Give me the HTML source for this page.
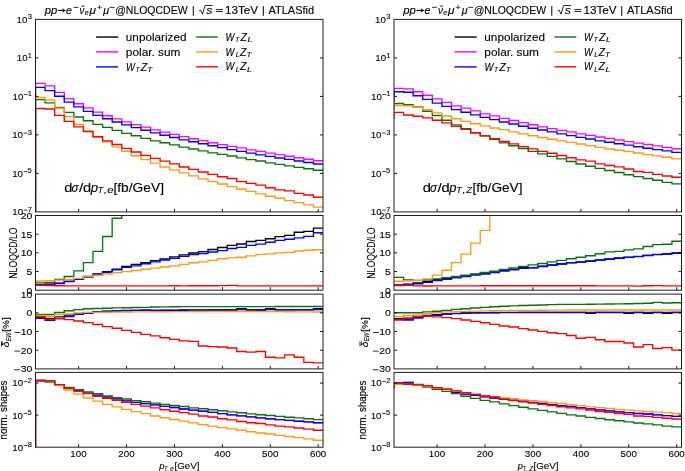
<!DOCTYPE html><html><head><meta charset="utf-8"><style>
html,body{margin:0;padding:0;background:#fff;}
svg{display:block;font-family:"Liberation Sans", sans-serif;}
</style></head><body>
<svg width="685" height="471" viewBox="0 0 685 471">
<rect width="685" height="471" fill="#fff"/>
<defs><filter id="soft" x="0" y="0" width="100%" height="100%" filterUnits="userSpaceOnUse"><feGaussianBlur stdDeviation="0.3"/></filter></defs>
<g filter="url(#soft)">
<rect width="685" height="471" fill="#fff"/>
<clipPath id="c0a"><rect x="35.5" y="19.4" width="287.5" height="192.5"/></clipPath>
<g clip-path="url(#c0a)" fill="none" stroke-width="1.35" stroke-linejoin="miter">
<path d="M35.5,216.9L35.5,83.3L45.08,83.3L45.08,85.8L54.67,85.8L54.67,92.3L64.25,92.3L64.25,98.6L73.83,98.6L73.83,103.7L83.42,103.7L83.42,107.9L93,107.9L93,112.1L102.58,112.1L102.58,115.7L112.17,115.7L112.17,118.9L121.75,118.9L121.75,121.9L131.33,121.9L131.33,124.6L140.92,124.6L140.92,127.1L150.5,127.1L150.5,129.9L160.08,129.9L160.08,132.1L169.67,132.1L169.67,134.4L179.25,134.4L179.25,136.6L188.83,136.6L188.83,138.7L198.42,138.7L198.42,140.6L208,140.6L208,142.7L217.58,142.7L217.58,144.6L227.17,144.6L227.17,146.4L236.75,146.4L236.75,147.9L246.33,147.9L246.33,149.9L255.92,149.9L255.92,151.4L265.5,151.4L265.5,153.1L275.08,153.1L275.08,154.6L284.67,154.6L284.67,156.2L294.25,156.2L294.25,157.7L303.83,157.7L303.83,159.2L313.42,159.2L313.42,160.7L323,160.7" stroke="#ff00ff"/>
<path d="M35.5,216.9L35.5,87.4L45.08,87.4L45.08,90.6L54.67,90.6L54.67,96.2L64.25,96.2L64.25,102.1L73.83,102.1L73.83,106.9L83.42,106.9L83.42,111.3L93,111.3L93,115.3L102.58,115.3L102.58,118.7L112.17,118.7L112.17,122L121.75,122L121.75,124.8L131.33,124.8L131.33,127.6L140.92,127.6L140.92,130.2L150.5,130.2L150.5,132.9L160.08,132.9L160.08,135.2L169.67,135.2L169.67,137.5L179.25,137.5L179.25,139.9L188.83,139.9L188.83,141.7L198.42,141.7L198.42,143.7L208,143.7L208,145.7L217.58,145.7L217.58,147.6L227.17,147.6L227.17,149.6L236.75,149.6L236.75,151.3L246.33,151.3L246.33,153.1L255.92,153.1L255.92,154.9L265.5,154.9L265.5,156.3L275.08,156.3L275.08,158L284.67,158L284.67,159.4L294.25,159.4L294.25,161L303.83,161L303.83,162.5L313.42,162.5L313.42,164L323,164" stroke="#0000ff"/>
<path d="M35.5,216.9L35.5,99.6L45.08,99.6L45.08,102.8L54.67,102.8L54.67,107.4L64.25,107.4L64.25,112.4L73.83,112.4L73.83,117L83.42,117L83.42,120.7L93,120.7L93,124.4L102.58,124.4L102.58,127.4L112.17,127.4L112.17,130.3L121.75,130.3L121.75,133.4L131.33,133.4L131.33,135.7L140.92,135.7L140.92,138.3L150.5,138.3L150.5,140.8L160.08,140.8L160.08,142.7L169.67,142.7L169.67,144.8L179.25,144.8L179.25,147.1L188.83,147.1L188.83,149L198.42,149L198.42,150.8L208,150.8L208,152.9L217.58,152.9L217.58,154.4L227.17,154.4L227.17,156L236.75,156L236.75,157.8L246.33,157.8L246.33,159.6L255.92,159.6L255.92,161L265.5,161L265.5,162.8L275.08,162.8L275.08,164.4L284.67,164.4L284.67,165.8L294.25,165.8L294.25,167.3L303.83,167.3L303.83,168.7L313.42,168.7L313.42,170.2L323,170.2" stroke="#107010"/>
<path d="M35.5,216.9L35.5,97.5L45.08,97.5L45.08,100L54.67,100L54.67,108.2L64.25,108.2L64.25,116.6L73.83,116.6L73.83,124.3L83.42,124.3L83.42,130.8L93,130.8L93,136.9L102.58,136.9L102.58,141.8L112.17,141.8L112.17,146.8L121.75,146.8L121.75,151.2L131.33,151.2L131.33,155.7L140.92,155.7L140.92,159.6L150.5,159.6L150.5,163.1L160.08,163.1L160.08,167L169.67,167L169.67,169.9L179.25,169.9L179.25,172.9L188.83,172.9L188.83,175.8L198.42,175.8L198.42,178.8L208,178.8L208,181.6L217.58,181.6L217.58,184L227.17,184L227.17,186.6L236.75,186.6L236.75,189.2L246.33,189.2L246.33,191.4L255.92,191.4L255.92,193.9L265.5,193.9L265.5,196.2L275.08,196.2L275.08,198.2L284.67,198.2L284.67,200.6L294.25,200.6L294.25,202.6L303.83,202.6L303.83,204.8L313.42,204.8L313.42,207.1L323,207.1" stroke="#ff9a14"/>
<path d="M35.5,216.9L35.5,108.5L45.08,108.5L45.08,109L54.67,109L54.67,115.4L64.25,115.4L64.25,121.3L73.83,121.3L73.83,126.8L83.42,126.8L83.42,131.6L93,131.6L93,136.7L102.58,136.7L102.58,140.8L112.17,140.8L112.17,144.5L121.75,144.5L121.75,148.4L131.33,148.4L131.33,152L140.92,152L140.92,155.4L150.5,155.4L150.5,158.3L160.08,158.3L160.08,161.1L169.67,161.1L169.67,163.9L179.25,163.9L179.25,167L188.83,167L188.83,169.3L198.42,169.3L198.42,172L208,172L208,174.4L217.58,174.4L217.58,176.7L227.17,176.7L227.17,178.5L236.75,178.5L236.75,181.6L246.33,181.6L246.33,183.4L255.92,183.4L255.92,185.1L265.5,185.1L265.5,187.7L275.08,187.7L275.08,189.9L284.67,189.9L284.67,190.9L294.25,190.9L294.25,193.3L303.83,193.3L303.83,195L313.42,195L313.42,197.2L323,197.2" stroke="#ff0000"/>
</g>
<path d="M35.5,57.9h3M323,57.9h-3M35.5,96.4h3M323,96.4h-3M35.5,134.9h3M323,134.9h-3M35.5,173.4h3M323,173.4h-3M78.62,211.9v-3M126.54,211.9v-3M174.46,211.9v-3M222.38,211.9v-3M270.29,211.9v-3M318.21,211.9v-3" stroke="#000" stroke-width="0.9" fill="none"/>
<rect x="35.5" y="19.4" width="287.5" height="192.5" fill="none" stroke="#1e1e1e" stroke-width="1"/>
<clipPath id="c0b"><rect x="35.5" y="215.5" width="287.5" height="74.7"/></clipPath>
<g clip-path="url(#c0b)" fill="none" stroke-width="1.35" stroke-linejoin="miter">
<path d="M35.5,284.6L45.08,284.6L45.08,284.2L54.67,284.2L54.67,283.1L64.25,283.1L64.25,281.3L73.83,281.3L73.83,279.1L83.42,279.1L83.42,276.5L93,276.5L93,274L102.58,274L102.58,271.6L112.17,271.6L112.17,269.2L121.75,269.2L121.75,266.5L131.33,266.5L131.33,264.4L140.92,264.4L140.92,262.7L150.5,262.7L150.5,260.6L160.08,260.6L160.08,258.9L169.67,258.9L169.67,256.8L179.25,256.8L179.25,254.9L188.83,254.9L188.83,253L198.42,253L198.42,251.6L208,251.6L208,249.5L217.58,249.5L217.58,247.5L227.17,247.5L227.17,245.4L236.75,245.4L236.75,244L246.33,244L246.33,241.5L255.92,241.5L255.92,240.4L265.5,240.4L265.5,238.7L275.08,238.7L275.08,236.6L284.67,236.6L284.67,235.4L294.25,235.4L294.25,232.2L303.83,232.2L303.83,231.4L313.42,231.4L313.42,228.1L323,228.1" stroke="#000000"/>
<path d="M35.5,284.6L45.08,284.6L45.08,284.4L54.67,284.4L54.67,283.5L64.25,283.5L64.25,281.5L73.83,281.5L73.83,279.4L83.42,279.4L83.42,277L93,277L93,274.5L102.58,274.5L102.58,272.2L112.17,272.2L112.17,269.8L121.75,269.8L121.75,267.3L131.33,267.3L131.33,265.9L140.92,265.9L140.92,263.7L150.5,263.7L150.5,261.8L160.08,261.8L160.08,260L169.67,260L169.67,258.3L179.25,258.3L179.25,256.4L188.83,256.4L188.83,254.6L198.42,254.6L198.42,253.5L208,253.5L208,252L217.58,252L217.58,250.6L227.17,250.6L227.17,248.5L236.75,248.5L236.75,247.4L246.33,247.4L246.33,245.3L255.92,245.3L255.92,244.1L265.5,244.1L265.5,242.2L275.08,242.2L275.08,240.4L284.67,240.4L284.67,239.2L294.25,239.2L294.25,237.9L303.83,237.9L303.83,236.3L313.42,236.3L313.42,232.7L323,232.7" stroke="#0000ff"/>
<path d="M35.5,282.8L45.08,282.8L45.08,282.4L54.67,282.4L54.67,279.3L64.25,279.3L64.25,276.5L73.83,276.5L73.83,270.9L83.42,270.9L83.42,262.6L93,262.6L93,251.4L102.58,251.4L102.58,236.5L112.17,236.5L112.17,218.2L121.75,218.2L121.75,150L131.33,150L131.33,150L140.92,150L140.92,150L150.5,150L150.5,150L160.08,150L160.08,150L169.67,150L169.67,150L179.25,150L179.25,150L188.83,150L188.83,150L198.42,150L198.42,150L208,150L208,150L217.58,150L217.58,150L227.17,150L227.17,150L236.75,150L236.75,150L246.33,150L246.33,150L255.92,150L255.92,150L265.5,150L265.5,150L275.08,150L275.08,150L284.67,150L284.67,150L294.25,150L294.25,150L303.83,150L303.83,150L313.42,150L313.42,150L323,150" stroke="#107010"/>
<path d="M35.5,281L45.08,281L45.08,280.6L54.67,280.6L54.67,280.1L64.25,280.1L64.25,279.5L73.83,279.5L73.83,278.3L83.42,278.3L83.42,276.5L93,276.5L93,275.2L102.58,275.2L102.58,274L112.17,274L112.17,272.6L121.75,272.6L121.75,271.6L131.33,271.6L131.33,270.5L140.92,270.5L140.92,269.2L150.5,269.2L150.5,268.1L160.08,268.1L160.08,267L169.67,267L169.67,265.9L179.25,265.9L179.25,264.4L188.83,264.4L188.83,262.7L198.42,262.7L198.42,261.8L208,261.8L208,260.3L217.58,260.3L217.58,258.7L227.17,258.7L227.17,257.9L236.75,257.9L236.75,257.2L246.33,257.2L246.33,255.9L255.92,255.9L255.92,254.3L265.5,254.3L265.5,253.9L275.08,253.9L275.08,252.9L284.67,252.9L284.67,252.3L294.25,252.3L294.25,251L303.83,251L303.83,250.2L313.42,250.2L313.42,249.7L323,249.7" stroke="#ff9a14"/>
<path d="M35.5,285.2L45.08,285.2L45.08,285.5L54.67,285.5L54.67,285.7L64.25,285.7L64.25,285.8L73.83,285.8L73.83,285.8L83.42,285.8L83.42,285.8L93,285.8L93,285.9L102.58,285.9L102.58,285.9L112.17,285.9L112.17,285.9L121.75,285.9L121.75,285.9L131.33,285.9L131.33,285.9L140.92,285.9L140.92,285.8L150.5,285.8L150.5,285.8L160.08,285.8L160.08,285.8L169.67,285.8L169.67,285.7L179.25,285.7L179.25,285.8L188.83,285.8L188.83,285.7L198.42,285.7L198.42,285.7L208,285.7L208,285.7L217.58,285.7L217.58,285.6L227.17,285.6L227.17,285.4L236.75,285.4L236.75,285.8L246.33,285.8L246.33,285.9L255.92,285.9L255.92,285.9L265.5,285.9L265.5,285.9L275.08,285.9L275.08,285.9L284.67,285.9L284.67,285.9L294.25,285.9L294.25,285.9L303.83,285.9L303.83,285.9L313.42,285.9L313.42,285.9L323,285.9" stroke="#ff0000"/>
</g>
<path d="M35.5,271.52h3M323,271.52h-3M35.5,252.85h3M323,252.85h-3M35.5,234.18h3M323,234.18h-3M78.62,290.2v-3M126.54,290.2v-3M174.46,290.2v-3M222.38,290.2v-3M270.29,290.2v-3M318.21,290.2v-3" stroke="#000" stroke-width="0.9" fill="none"/>
<rect x="35.5" y="215.5" width="287.5" height="74.7" fill="none" stroke="#1e1e1e" stroke-width="1"/>
<clipPath id="c0c"><rect x="35.5" y="294.1" width="287.5" height="74.8"/></clipPath>
<g clip-path="url(#c0c)" fill="none" stroke-width="1.35" stroke-linejoin="miter">
<path d="M35.5,317.2L45.08,317.2L45.08,318.4L54.67,318.4L54.67,316.8L64.25,316.8L64.25,315.1L73.83,315.1L73.83,314L83.42,314L83.42,312.8L93,312.8L93,311.8L102.58,311.8L102.58,311.2L112.17,311.2L112.17,310.8L121.75,310.8L121.75,310.5L131.33,310.5L131.33,310.3L140.92,310.3L140.92,310.1L150.5,310.1L150.5,310.55L160.08,310.55L160.08,310.45L169.67,310.45L169.67,310.35L179.25,310.35L179.25,310.25L188.83,310.25L188.83,310.15L198.42,310.15L198.42,310.15L208,310.15L208,310.05L217.58,310.05L217.58,310.05L227.17,310.05L227.17,309.95L236.75,309.95L236.75,308.75L246.33,308.75L246.33,309.95L255.92,309.95L255.92,309.95L265.5,309.95L265.5,308.65L275.08,308.65L275.08,309.85L284.67,309.85L284.67,309.85L294.25,309.85L294.25,309.85L303.83,309.85L303.83,309.85L313.42,309.85L313.42,308.55L323,308.55" stroke="#000000"/>
<path d="M35.5,318.3L45.08,318.3L45.08,320.2L54.67,320.2L54.67,318.6L64.25,318.6L64.25,316.5L73.83,316.5L73.83,314.4L83.42,314.4L83.42,313L93,313L93,311.8L102.58,311.8L102.58,311.3L112.17,311.3L112.17,310.9L121.75,310.9L121.75,310.6L131.33,310.6L131.33,310.4L140.92,310.4L140.92,310.2L150.5,310.2L150.5,310.25L160.08,310.25L160.08,310.15L169.67,310.15L169.67,310.05L179.25,310.05L179.25,309.95L188.83,309.95L188.83,309.85L198.42,309.85L198.42,309.85L208,309.85L208,309.75L217.58,309.75L217.58,309.75L227.17,309.75L227.17,309.65L236.75,309.65L236.75,309.65L246.33,309.65L246.33,309.65L255.92,309.65L255.92,309.65L265.5,309.65L265.5,309.55L275.08,309.55L275.08,309.55L284.67,309.55L284.67,309.55L294.25,309.55L294.25,309.55L303.83,309.55L303.83,309.55L313.42,309.55L313.42,309.45L323,309.45" stroke="#0000ff"/>
<path d="M35.5,314.3L45.08,314.3L45.08,314.5L54.67,314.5L54.67,312.5L64.25,312.5L64.25,310.7L73.83,310.7L73.83,309.6L83.42,309.6L83.42,308.7L93,308.7L93,308.5L102.58,308.5L102.58,308.2L112.17,308.2L112.17,307.9L121.75,307.9L121.75,307.7L131.33,307.7L131.33,307.5L140.92,307.5L140.92,307.4L150.5,307.4L150.5,306.95L160.08,306.95L160.08,306.85L169.67,306.85L169.67,306.75L179.25,306.75L179.25,306.65L188.83,306.65L188.83,306.65L198.42,306.65L198.42,306.65L208,306.65L208,306.55L217.58,306.55L217.58,306.55L227.17,306.55L227.17,306.55L236.75,306.55L236.75,306.55L246.33,306.55L246.33,306.55L255.92,306.55L255.92,306.55L265.5,306.55L265.5,306.55L275.08,306.55L275.08,306.45L284.67,306.45L284.67,306.45L294.25,306.45L294.25,306.45L303.83,306.45L303.83,306.45L313.42,306.45L313.42,306.45L323,306.45" stroke="#107010"/>
<path d="M35.5,315.4L45.08,315.4L45.08,316.2L54.67,316.2L54.67,314.5L64.25,314.5L64.25,313.9L73.83,313.9L73.83,312.8L83.42,312.8L83.42,312.4L93,312.4L93,312.3L102.58,312.3L102.58,312.2L112.17,312.2L112.17,312.1L121.75,312.1L121.75,312L131.33,312L131.33,311.9L140.92,311.9L140.92,311.8L150.5,311.8L150.5,311.7L160.08,311.7L160.08,311.7L169.67,311.7L169.67,311.6L179.25,311.6L179.25,311.6L188.83,311.6L188.83,311.5L198.42,311.5L198.42,311.5L208,311.5L208,311.5L217.58,311.5L217.58,311.5L227.17,311.5L227.17,311.5L236.75,311.5L236.75,311.5L246.33,311.5L246.33,311.5L255.92,311.5L255.92,311.6L265.5,311.6L265.5,311.6L275.08,311.6L275.08,311.6L284.67,311.6L284.67,311.7L294.25,311.7L294.25,311.8L303.83,311.8L303.83,311.9L313.42,311.9L313.42,312L323,312" stroke="#ff9a14"/>
<path d="M35.5,316.8L45.08,316.8L45.08,319.3L54.67,319.3L54.67,318.6L64.25,318.6L64.25,319.6L73.83,319.6L73.83,321L83.42,321L83.42,322.6L93,322.6L93,324.5L102.58,324.5L102.58,326.6L112.17,326.6L112.17,328.2L121.75,328.2L121.75,330.4L131.33,330.4L131.33,332.4L140.92,332.4L140.92,334.3L150.5,334.3L150.5,335.8L160.08,335.8L160.08,337.7L169.67,337.7L169.67,339.4L179.25,339.4L179.25,340.9L188.83,340.9L188.83,341.3L198.42,341.3L198.42,346L208,346L208,346.6L217.58,346.6L217.58,347L227.17,347L227.17,348L236.75,348L236.75,351.5L246.33,351.5L246.33,352.1L255.92,352.1L255.92,351.5L265.5,351.5L265.5,357.2L275.08,357.2L275.08,357.8L284.67,357.8L284.67,354.8L294.25,354.8L294.25,357.2L303.83,357.2L303.83,362.3L313.42,362.3L313.42,362.9L323,362.9" stroke="#ff0000"/>
</g>
<path d="M35.5,312.8h3M323,312.8h-3M35.5,331.5h3M323,331.5h-3M35.5,350.2h3M323,350.2h-3M78.62,368.9v-3M126.54,368.9v-3M174.46,368.9v-3M222.38,368.9v-3M270.29,368.9v-3M318.21,368.9v-3" stroke="#000" stroke-width="0.9" fill="none"/>
<rect x="35.5" y="294.1" width="287.5" height="74.8" fill="none" stroke="#1e1e1e" stroke-width="1"/>
<clipPath id="c0d"><rect x="35.5" y="372.4" width="287.5" height="74.8"/></clipPath>
<g clip-path="url(#c0d)" fill="none" stroke-width="1.35" stroke-linejoin="miter">
<path d="M35.5,452.2L35.5,380.8L45.08,380.8L45.08,381.2L54.67,381.2L54.67,385L64.25,385L64.25,388.2L73.83,388.2L73.83,390.8L83.42,390.8L83.42,393.2L93,393.2L93,395.1L102.58,395.1L102.58,397L112.17,397L112.17,398.9L121.75,398.9L121.75,400.8L131.33,400.8L131.33,402.3L140.92,402.3L140.92,403.6L150.5,403.6L150.5,404.9L160.08,404.9L160.08,406.4L169.67,406.4L169.67,407.5L179.25,407.5L179.25,409L188.83,409L188.83,410.1L198.42,410.1L198.42,411.2L208,411.2L208,412.3L217.58,412.3L217.58,413.6L227.17,413.6L227.17,414.9L236.75,414.9L236.75,415.8L246.33,415.8L246.33,416.9L255.92,416.9L255.92,417.8L265.5,417.8L265.5,418.7L275.08,418.7L275.08,419.6L284.67,419.6L284.67,420.4L294.25,420.4L294.25,421.2L303.83,421.2L303.83,421.9L313.42,421.9L313.42,422.7L323,422.7" stroke="#ff00ff"/>
<path d="M35.5,452.2L35.5,380.8L45.08,380.8L45.08,381.2L54.67,381.2L54.67,385L64.25,385L64.25,388.2L73.83,388.2L73.83,390.8L83.42,390.8L83.42,393.2L93,393.2L93,395.1L102.58,395.1L102.58,397L112.17,397L112.17,398.9L121.75,398.9L121.75,400.8L131.33,400.8L131.33,402.3L140.92,402.3L140.92,403.6L150.5,403.6L150.5,404.9L160.08,404.9L160.08,406.4L169.67,406.4L169.67,407.5L179.25,407.5L179.25,409L188.83,409L188.83,410.1L198.42,410.1L198.42,411.2L208,411.2L208,412.3L217.58,412.3L217.58,413.6L227.17,413.6L227.17,414.9L236.75,414.9L236.75,415.8L246.33,415.8L246.33,416.9L255.92,416.9L255.92,417.8L265.5,417.8L265.5,418.7L275.08,418.7L275.08,419.6L284.67,419.6L284.67,420.4L294.25,420.4L294.25,421.2L303.83,421.2L303.83,421.9L313.42,421.9L313.42,422.7L323,422.7" stroke="#0000ff"/>
<path d="M35.5,452.2L35.5,380.6L45.08,380.6L45.08,382L54.67,382L54.67,385.2L64.25,385.2L64.25,387.5L73.83,387.5L73.83,389.6L83.42,389.6L83.42,391.9L93,391.9L93,393.6L102.58,393.6L102.58,396L112.17,396L112.17,397.7L121.75,397.7L121.75,399L131.33,399L131.33,400.6L140.92,400.6L140.92,401.7L150.5,401.7L150.5,403.1L160.08,403.1L160.08,404.3L169.67,404.3L169.67,405.5L179.25,405.5L179.25,406.5L188.83,406.5L188.83,407.8L198.42,407.8L198.42,408.7L208,408.7L208,409.7L217.58,409.7L217.58,410.7L227.17,410.7L227.17,411.8L236.75,411.8L236.75,412.7L246.33,412.7L246.33,413.8L255.92,413.8L255.92,414.7L265.5,414.7L265.5,415.5L275.08,415.5L275.08,416.4L284.67,416.4L284.67,417.2L294.25,417.2L294.25,417.9L303.83,417.9L303.83,418.7L313.42,418.7L313.42,419.6L323,419.6" stroke="#107010"/>
<path d="M35.5,452.2L35.5,379.7L45.08,379.7L45.08,380.8L54.67,380.8L54.67,385.3L64.25,385.3L64.25,390L73.83,390L73.83,394.1L83.42,394.1L83.42,398L93,398L93,401.1L102.58,401.1L102.58,404.3L112.17,404.3L112.17,406.8L121.75,406.8L121.75,409.4L131.33,409.4L131.33,411.6L140.92,411.6L140.92,413.6L150.5,413.6L150.5,416L160.08,416L160.08,417.7L169.67,417.7L169.67,419.5L179.25,419.5L179.25,421.1L188.83,421.1L188.83,422.8L198.42,422.8L198.42,424.6L208,424.6L208,426.1L217.58,426.1L217.58,427.6L227.17,427.6L227.17,428.8L236.75,428.8L236.75,430.2L246.33,430.2L246.33,431.7L255.92,431.7L255.92,433L265.5,433L265.5,434L275.08,434L275.08,435.3L284.67,435.3L284.67,436.5L294.25,436.5L294.25,437.6L303.83,437.6L303.83,438.8L313.42,438.8L313.42,440.2L323,440.2" stroke="#ff9a14"/>
<path d="M35.5,452.2L35.5,380.3L45.08,380.3L45.08,380.6L54.67,380.6L54.67,384.6L64.25,384.6L64.25,388.3L73.83,388.3L73.83,391.1L83.42,391.1L83.42,393.6L93,393.6L93,396.3L102.58,396.3L102.58,398.2L112.17,398.2L112.17,400.4L121.75,400.4L121.75,402.4L131.33,402.4L131.33,404.3L140.92,404.3L140.92,406.1L150.5,406.1L150.5,407.8L160.08,407.8L160.08,409.7L169.67,409.7L169.67,411.2L179.25,411.2L179.25,412.6L188.83,412.6L188.83,414.1L198.42,414.1L198.42,416L208,416L208,417L217.58,417L217.58,418.7L227.17,418.7L227.17,419.9L236.75,419.9L236.75,421.5L246.33,421.5L246.33,422.7L255.92,422.7L255.92,423.5L265.5,423.5L265.5,424.8L275.08,424.8L275.08,426.1L284.67,426.1L284.67,426.8L294.25,426.8L294.25,428L303.83,428L303.83,429.1L313.42,429.1L313.42,430.2L323,430.2" stroke="#ff0000"/>
</g>
<path d="M35.5,383.09h3M323,383.09h-3M35.5,415.14h3M323,415.14h-3M78.62,447.2v-3M126.54,447.2v-3M174.46,447.2v-3M222.38,447.2v-3M270.29,447.2v-3M318.21,447.2v-3" stroke="#000" stroke-width="0.9" fill="none"/>
<rect x="35.5" y="372.4" width="287.5" height="74.8" fill="none" stroke="#1e1e1e" stroke-width="1"/>
<text x="27.65" y="19.4" font-size="6.7" textLength="4.17" lengthAdjust="spacingAndGlyphs" fill="#000" stroke="#000" stroke-width="0.1">3</text><text x="16.51" y="22.8" font-size="9.7" textLength="10.82" lengthAdjust="spacingAndGlyphs" fill="#000" stroke="#000" stroke-width="0.1">10</text><text x="27.69" y="57.9" font-size="6.7" textLength="4.17" lengthAdjust="spacingAndGlyphs" fill="#000" stroke="#000" stroke-width="0.1">1</text><text x="16.83" y="61.3" font-size="9.7" textLength="10.82" lengthAdjust="spacingAndGlyphs" fill="#000" stroke="#000" stroke-width="0.1">10</text><text x="27.69" y="96.4" font-size="6.7" textLength="4.17" lengthAdjust="spacingAndGlyphs" fill="#000" stroke="#000" stroke-width="0.1">1</text><rect x="23.95" y="94.23" width="3.6" height="0.75" fill="#000"/><text x="12.53" y="99.8" font-size="9.7" textLength="10.82" lengthAdjust="spacingAndGlyphs" fill="#000" stroke="#000" stroke-width="0.1">10</text><text x="27.65" y="134.9" font-size="6.7" textLength="4.17" lengthAdjust="spacingAndGlyphs" fill="#000" stroke="#000" stroke-width="0.1">3</text><rect x="23.64" y="132.72" width="3.6" height="0.75" fill="#000"/><text x="12.21" y="138.3" font-size="9.7" textLength="10.82" lengthAdjust="spacingAndGlyphs" fill="#000" stroke="#000" stroke-width="0.1">10</text><text x="27.64" y="173.4" font-size="6.7" textLength="4.17" lengthAdjust="spacingAndGlyphs" fill="#000" stroke="#000" stroke-width="0.1">5</text><rect x="23.64" y="171.22" width="3.6" height="0.75" fill="#000"/><text x="12.21" y="176.8" font-size="9.7" textLength="10.82" lengthAdjust="spacingAndGlyphs" fill="#000" stroke="#000" stroke-width="0.1">10</text><text x="27.71" y="211.9" font-size="6.7" textLength="4.17" lengthAdjust="spacingAndGlyphs" fill="#000" stroke="#000" stroke-width="0.1">7</text><rect x="23.79" y="209.72" width="3.6" height="0.75" fill="#000"/><text x="12.36" y="215.3" font-size="9.7" textLength="10.82" lengthAdjust="spacingAndGlyphs" fill="#000" stroke="#000" stroke-width="0.1">10</text><text x="20.69" y="218.95" font-size="9.7" textLength="11.62" lengthAdjust="spacingAndGlyphs" fill="#000" stroke="#000" stroke-width="0.1">20</text><text x="20.72" y="237.62" font-size="9.7" textLength="11.62" lengthAdjust="spacingAndGlyphs" fill="#000" stroke="#000" stroke-width="0.1">15</text><text x="20.69" y="256.3" font-size="9.7" textLength="11.62" lengthAdjust="spacingAndGlyphs" fill="#000" stroke="#000" stroke-width="0.1">10</text><text x="26.52" y="274.97" font-size="9.7" textLength="5.81" lengthAdjust="spacingAndGlyphs" fill="#000" stroke="#000" stroke-width="0.1">5</text><text x="26.49" y="293.65" font-size="9.7" textLength="5.81" lengthAdjust="spacingAndGlyphs" fill="#000" stroke="#000" stroke-width="0.1">0</text><text x="20.69" y="297.55" font-size="9.7" textLength="11.62" lengthAdjust="spacingAndGlyphs" fill="#000" stroke="#000" stroke-width="0.1">10</text><text x="26.49" y="316.25" font-size="9.7" textLength="5.81" lengthAdjust="spacingAndGlyphs" fill="#000" stroke="#000" stroke-width="0.1">0</text><text x="20.69" y="334.95" font-size="9.7" textLength="11.62" lengthAdjust="spacingAndGlyphs" fill="#000" stroke="#000" stroke-width="0.1">10</text><rect x="14.58" y="332" width="5.8" height="0.8" fill="#000"/><text x="20.69" y="353.65" font-size="9.7" textLength="11.62" lengthAdjust="spacingAndGlyphs" fill="#000" stroke="#000" stroke-width="0.1">20</text><rect x="14.31" y="350.7" width="5.8" height="0.8" fill="#000"/><text x="20.69" y="372.35" font-size="9.7" textLength="11.62" lengthAdjust="spacingAndGlyphs" fill="#000" stroke="#000" stroke-width="0.1">30</text><rect x="14.18" y="369.4" width="5.8" height="0.8" fill="#000"/><text x="27.71" y="383.09" font-size="6.7" textLength="4.17" lengthAdjust="spacingAndGlyphs" fill="#000" stroke="#000" stroke-width="0.1">2</text><rect x="23.79" y="380.91" width="3.6" height="0.75" fill="#000"/><text x="12.36" y="386.49" font-size="9.7" textLength="10.82" lengthAdjust="spacingAndGlyphs" fill="#000" stroke="#000" stroke-width="0.1">10</text><text x="27.64" y="415.14" font-size="6.7" textLength="4.17" lengthAdjust="spacingAndGlyphs" fill="#000" stroke="#000" stroke-width="0.1">5</text><rect x="23.64" y="412.97" width="3.6" height="0.75" fill="#000"/><text x="12.21" y="418.54" font-size="9.7" textLength="10.82" lengthAdjust="spacingAndGlyphs" fill="#000" stroke="#000" stroke-width="0.1">10</text><text x="27.65" y="447.2" font-size="6.7" textLength="4.17" lengthAdjust="spacingAndGlyphs" fill="#000" stroke="#000" stroke-width="0.1">8</text><rect x="23.67" y="445.02" width="3.6" height="0.75" fill="#000"/><text x="12.24" y="450.6" font-size="9.7" textLength="10.82" lengthAdjust="spacingAndGlyphs" fill="#000" stroke="#000" stroke-width="0.1">10</text><text x="70.3" y="457.3" font-size="9.7" textLength="16.3" lengthAdjust="spacingAndGlyphs" fill="#000" stroke="#000" stroke-width="0.1">100</text><text x="118.33" y="457.3" font-size="9.7" textLength="16.3" lengthAdjust="spacingAndGlyphs" fill="#000" stroke="#000" stroke-width="0.1">200</text><text x="166.31" y="457.3" font-size="9.7" textLength="16.3" lengthAdjust="spacingAndGlyphs" fill="#000" stroke="#000" stroke-width="0.1">300</text><text x="214.3" y="457.3" font-size="9.7" textLength="16.3" lengthAdjust="spacingAndGlyphs" fill="#000" stroke="#000" stroke-width="0.1">400</text><text x="262.13" y="457.3" font-size="9.7" textLength="16.3" lengthAdjust="spacingAndGlyphs" fill="#000" stroke="#000" stroke-width="0.1">500</text><text x="310" y="457.3" font-size="9.7" textLength="16.3" lengthAdjust="spacingAndGlyphs" fill="#000" stroke="#000" stroke-width="0.1">600</text>
<text x="44.68" y="13.7" font-size="10.9" font-style="italic" textLength="12.58" lengthAdjust="spacingAndGlyphs" fill="#000" stroke="#000" stroke-width="0.12">pp</text><path d="M57.9,10.4H63.4" stroke="#000" stroke-width="1.05"/><path d="M62.3,8.2L65.8,10.4L62.3,12.6L63.1,10.4Z" fill="#000"/><text x="66.05" y="13.7" font-size="10.9" font-style="italic" textLength="5.93" lengthAdjust="spacingAndGlyphs" fill="#000" stroke="#000" stroke-width="0.12">e</text><rect x="73.6" y="6.9" width="4.7" height="0.8" fill="#000"/><text x="79.53" y="13.7" font-size="10.9" font-style="italic" textLength="4.92" lengthAdjust="spacingAndGlyphs" fill="#000" stroke="#000" stroke-width="0.12">ν</text><rect x="81.3" y="5.7" width="3.3" height="0.8" fill="#000"/><text x="84.77" y="15.4" font-size="7.6" font-style="italic" textLength="3.99" lengthAdjust="spacingAndGlyphs" fill="#000" stroke="#000" stroke-width="0.12">e</text><text x="89.54" y="13.7" font-size="10.9" font-style="italic" textLength="6.45" lengthAdjust="spacingAndGlyphs" fill="#000" stroke="#000" stroke-width="0.12">μ</text><text x="96.84" y="10.1" font-size="7.6" textLength="5.63" lengthAdjust="spacingAndGlyphs" fill="#000" stroke="#000" stroke-width="0.12">+</text><text x="103.21" y="13.7" font-size="10.9" font-style="italic" textLength="5.85" lengthAdjust="spacingAndGlyphs" fill="#000" stroke="#000" stroke-width="0.12">μ</text><rect x="109.6" y="6.9" width="5" height="0.8" fill="#000"/><text x="115.19" y="13.7" font-size="10.9" textLength="72.36" lengthAdjust="spacingAndGlyphs" fill="#000" stroke="#000" stroke-width="0.12">@NLOQCDEW</text><rect x="192.8" y="6.1" width="1" height="9.7" fill="#000"/><path d="M199.3,10.6l1.3,-0.6l1.9,4.2l2.6,-8.7h7.5" fill="none" stroke="#000" stroke-width="0.85"/><text x="206.17" y="13.7" font-size="10.9" font-style="italic" textLength="6.18" lengthAdjust="spacingAndGlyphs" fill="#000" stroke="#000" stroke-width="0.12">s</text><rect x="215.9" y="8.97" width="6.9" height="0.85" fill="#000"/><rect x="215.9" y="11.02" width="6.9" height="0.85" fill="#000"/><text x="225.02" y="13.7" font-size="10.9" textLength="33.14" lengthAdjust="spacingAndGlyphs" fill="#000" stroke="#000" stroke-width="0.12">13TeV</text><rect x="262.8" y="6.1" width="1" height="9.7" fill="#000"/><text x="268.47" y="13.7" font-size="10.9" textLength="45.61" lengthAdjust="spacingAndGlyphs" fill="#000" stroke="#000" stroke-width="0.12">ATLASfid</text>
<path d="M96.1,37.05H118.2" stroke="#000000" stroke-width="1.4"/><path d="M96.1,51.9H118.2" stroke="#ff00ff" stroke-width="1.4"/><path d="M96.1,66.9H118.2" stroke="#0000ff" stroke-width="1.4"/><path d="M196.1,37H217.8" stroke="#107010" stroke-width="1.4"/><path d="M196.1,51.9H217.8" stroke="#ff9a14" stroke-width="1.4"/><path d="M196.1,66.8H217.8" stroke="#ff0000" stroke-width="1.4"/><text x="125.84" y="40.6" font-size="11" textLength="60.7" lengthAdjust="spacingAndGlyphs" fill="#000" stroke="#000" stroke-width="0.12">unpolarized</text><text x="125.83" y="55.5" font-size="11" textLength="54.65" lengthAdjust="spacingAndGlyphs" fill="#000" stroke="#000" stroke-width="0.12">polar. sum</text><text x="125.88" y="70.5" font-size="11" font-style="italic" textLength="8.88" lengthAdjust="spacingAndGlyphs" fill="#000" stroke="#000" stroke-width="0.12">W</text><text x="135.61" y="72" font-size="7.6" font-style="italic" textLength="4" lengthAdjust="spacingAndGlyphs" fill="#000" stroke="#000" stroke-width="0.12">T</text><text x="140.71" y="70.5" font-size="11" font-style="italic" textLength="6.5" lengthAdjust="spacingAndGlyphs" fill="#000" stroke="#000" stroke-width="0.12">Z</text><text x="147.37" y="72" font-size="7.6" font-style="italic" textLength="4.95" lengthAdjust="spacingAndGlyphs" fill="#000" stroke="#000" stroke-width="0.12">T</text><text x="225.58" y="40.5" font-size="11" font-style="italic" textLength="8.88" lengthAdjust="spacingAndGlyphs" fill="#000" stroke="#000" stroke-width="0.12">W</text><text x="235.31" y="42" font-size="7.6" font-style="italic" textLength="4" lengthAdjust="spacingAndGlyphs" fill="#000" stroke="#000" stroke-width="0.12">T</text><text x="240.41" y="40.5" font-size="11" font-style="italic" textLength="6.5" lengthAdjust="spacingAndGlyphs" fill="#000" stroke="#000" stroke-width="0.12">Z</text><text x="247.54" y="42" font-size="7.6" font-style="italic" textLength="4.89" lengthAdjust="spacingAndGlyphs" fill="#000" stroke="#000" stroke-width="0.12">L</text><text x="225.58" y="55.5" font-size="11" font-style="italic" textLength="8.88" lengthAdjust="spacingAndGlyphs" fill="#000" stroke="#000" stroke-width="0.12">W</text><text x="235.68" y="57" font-size="7.6" font-style="italic" textLength="4.03" lengthAdjust="spacingAndGlyphs" fill="#000" stroke="#000" stroke-width="0.12">L</text><text x="239.91" y="55.5" font-size="11" font-style="italic" textLength="6.5" lengthAdjust="spacingAndGlyphs" fill="#000" stroke="#000" stroke-width="0.12">Z</text><text x="246.57" y="57" font-size="7.6" font-style="italic" textLength="4.95" lengthAdjust="spacingAndGlyphs" fill="#000" stroke="#000" stroke-width="0.12">T</text><text x="225.58" y="70.4" font-size="11" font-style="italic" textLength="8.88" lengthAdjust="spacingAndGlyphs" fill="#000" stroke="#000" stroke-width="0.12">W</text><text x="235.68" y="71.9" font-size="7.6" font-style="italic" textLength="4.03" lengthAdjust="spacingAndGlyphs" fill="#000" stroke="#000" stroke-width="0.12">L</text><text x="239.91" y="70.4" font-size="11" font-style="italic" textLength="6.5" lengthAdjust="spacingAndGlyphs" fill="#000" stroke="#000" stroke-width="0.12">Z</text><text x="247.04" y="71.9" font-size="7.6" font-style="italic" textLength="4.89" lengthAdjust="spacingAndGlyphs" fill="#000" stroke="#000" stroke-width="0.12">L</text>
<text x="64.18" y="191.8" font-size="12.6" textLength="8.16" lengthAdjust="spacingAndGlyphs" fill="#000" stroke="#000" stroke-width="0.12">d</text><text x="71.42" y="191.8" font-size="12.6" font-style="italic" textLength="7.01" lengthAdjust="spacingAndGlyphs" fill="#000" stroke="#000" stroke-width="0.12">σ</text><text x="78.9" y="191.8" font-size="12.6" textLength="4.31" lengthAdjust="spacingAndGlyphs" fill="#000" stroke="#000" stroke-width="0.12">/</text><text x="82.98" y="191.8" font-size="12.6" textLength="8.16" lengthAdjust="spacingAndGlyphs" fill="#000" stroke="#000" stroke-width="0.12">d</text><text x="90.73" y="191.8" font-size="12.6" font-style="italic" textLength="7.28" lengthAdjust="spacingAndGlyphs" fill="#000" stroke="#000" stroke-width="0.12">p</text><text x="97.71" y="193.4" font-size="8.6" font-style="italic" textLength="5.37" lengthAdjust="spacingAndGlyphs" fill="#000" stroke="#000" stroke-width="0.12">T</text><text x="103.98" y="193.4" font-size="8.6" font-style="italic" textLength="3.12" lengthAdjust="spacingAndGlyphs" fill="#000" stroke="#000" stroke-width="0.12">,</text><text x="107.33" y="193.4" font-size="8.6" font-style="italic" textLength="6.27" lengthAdjust="spacingAndGlyphs" fill="#000" stroke="#000" stroke-width="0.12">e</text><text x="113.44" y="191.8" font-size="12.6" textLength="50.54" lengthAdjust="spacingAndGlyphs" fill="#000" stroke="#000" stroke-width="0.12">[fb/GeV]</text>
<text x="159.24" y="468.6" font-size="9.6" font-style="italic" textLength="5.26" lengthAdjust="spacingAndGlyphs" fill="#000" stroke="#000" stroke-width="0.12">p</text><text x="164.13" y="470.5" font-size="7" font-style="italic" textLength="3.16" lengthAdjust="spacingAndGlyphs" fill="#000" stroke="#000" stroke-width="0.12">T</text><text x="167.6" y="470.5" font-size="7" font-style="italic" textLength="1.36" lengthAdjust="spacingAndGlyphs" fill="#000" stroke="#000" stroke-width="0.12">,</text><text x="170.19" y="470.5" font-size="7" font-style="italic" textLength="3.54" lengthAdjust="spacingAndGlyphs" fill="#000" stroke="#000" stroke-width="0.12">e</text><text x="174.52" y="468.6" font-size="9.6" textLength="24.96" lengthAdjust="spacingAndGlyphs" fill="#000" stroke="#000" stroke-width="0.12">[GeV]</text>
<g transform="translate(16.9,278) rotate(-90)"><text x="-0.72" y="0" font-size="10.3" textLength="51.23" lengthAdjust="spacingAndGlyphs" fill="#000" stroke="#000" stroke-width="0.15">NLOQCD/LO</text></g><g transform="translate(9,346.8) rotate(-90)"><text x="-0.33" y="0" font-size="9.3" font-style="italic" textLength="5.63" lengthAdjust="spacingAndGlyphs" fill="#000" stroke="#000" stroke-width="0.15">δ</text></g><g transform="translate(9,346.8) rotate(-90)"><rect x="0.5" y="-7.9" width="4.9" height="0.8" fill="#000"/></g><g transform="translate(9,346.8) rotate(-90)"><text x="5.44" y="1.6" font-size="6.6" font-style="italic" textLength="8.73" lengthAdjust="spacingAndGlyphs" fill="#000" stroke="#000" stroke-width="0.12">EW</text></g><g transform="translate(9,346.8) rotate(-90)"><text x="15.1" y="0" font-size="9.3" textLength="14.39" lengthAdjust="spacingAndGlyphs" fill="#000" stroke="#000" stroke-width="0.15">[%]</text></g><g transform="translate(7.1,438.8) rotate(-90)"><text x="-0.65" y="0" font-size="10" textLength="58.78" lengthAdjust="spacingAndGlyphs" fill="#000" stroke="#000" stroke-width="0.15">norm. shapes</text></g>
<clipPath id="c358a"><rect x="394" y="19.4" width="287.5" height="192.5"/></clipPath>
<g clip-path="url(#c358a)" fill="none" stroke-width="1.35" stroke-linejoin="miter">
<path d="M394,97L394,88.3L403.58,88.3L403.58,88.8L413.17,88.8L413.17,91.7L422.75,91.7L422.75,95.2L432.33,95.2L432.33,98.9L441.92,98.9L441.92,102.4L451.5,102.4L451.5,105.9L461.08,105.9L461.08,108.1L470.67,108.1L470.67,110.9L480.25,110.9L480.25,113.8L489.83,113.8L489.83,115.9L499.42,115.9L499.42,118.3L509,118.3L509,120.5L518.58,120.5L518.58,122.6L528.17,122.6L528.17,124.7L537.75,124.7L537.75,126.8L547.33,126.8L547.33,128.6L556.92,128.6L556.92,130.3L566.5,130.3L566.5,131.9L576.08,131.9L576.08,133.9L585.67,133.9L585.67,135.4L595.25,135.4L595.25,137L604.83,137L604.83,138.4L614.42,138.4L614.42,140L624,140L624,141.6L633.58,141.6L633.58,143.1L643.17,143.1L643.17,144.5L652.75,144.5L652.75,145.8L662.33,145.8L662.33,147.3L671.92,147.3L671.92,148.7L681.5,148.7" stroke="#ff00ff"/>
<path d="M394,101.7L394,91.7L403.58,91.7L403.58,92.2L413.17,92.2L413.17,95.7L422.75,95.7L422.75,99.3L432.33,99.3L432.33,103.1L441.92,103.1L441.92,106.3L451.5,106.3L451.5,109.6L461.08,109.6L461.08,112.2L470.67,112.2L470.67,114.8L480.25,114.8L480.25,117.3L489.83,117.3L489.83,119.6L499.42,119.6L499.42,122L509,122L509,124L518.58,124L518.58,126.2L528.17,126.2L528.17,128.2L537.75,128.2L537.75,130L547.33,130L547.33,131.9L556.92,131.9L556.92,133.9L566.5,133.9L566.5,135.6L576.08,135.6L576.08,137.3L585.67,137.3L585.67,139L595.25,139L595.25,140.8L604.83,140.8L604.83,142.2L614.42,142.2L614.42,143.7L624,143.7L624,145.1L633.58,145.1L633.58,146.7L643.17,146.7L643.17,148.2L652.75,148.2L652.75,149.6L662.33,149.6L662.33,150.9L671.92,150.9L671.92,152.3L681.5,152.3" stroke="#0000ff"/>
<path d="M394,110L394,103.5L403.58,103.5L403.58,104.6L413.17,104.6L413.17,107L422.75,107L422.75,111.2L432.33,111.2L432.33,115.5L441.92,115.5L441.92,120.2L451.5,120.2L451.5,124.8L461.08,124.8L461.08,128.7L470.67,128.7L470.67,132.8L480.25,132.8L480.25,135.9L489.83,135.9L489.83,139.3L499.42,139.3L499.42,142.8L509,142.8L509,145.7L518.58,145.7L518.58,148.5L528.17,148.5L528.17,151.3L537.75,151.3L537.75,153.9L547.33,153.9L547.33,156.4L556.92,156.4L556.92,158.9L566.5,158.9L566.5,161.5L576.08,161.5L576.08,164L585.67,164L585.67,166.2L595.25,166.2L595.25,168.4L604.83,168.4L604.83,170.5L614.42,170.5L614.42,172.5L624,172.5L624,174.7L633.58,174.7L633.58,176.6L643.17,176.6L643.17,178.5L652.75,178.5L652.75,180.2L662.33,180.2L662.33,182.3L671.92,182.3L671.92,183.9L681.5,183.9" stroke="#107010"/>
<path d="M394,107.5L394,105.5L403.58,105.5L403.58,105.7L413.17,105.7L413.17,107.2L422.75,107.2L422.75,109.7L432.33,109.7L432.33,112.9L441.92,112.9L441.92,116L451.5,116L451.5,118.7L461.08,118.7L461.08,121.4L470.67,121.4L470.67,123.7L480.25,123.7L480.25,125.8L489.83,125.8L489.83,128L499.42,128L499.42,129.6L509,129.6L509,131.9L518.58,131.9L518.58,133.9L528.17,133.9L528.17,135.7L537.75,135.7L537.75,137.5L547.33,137.5L547.33,139.2L556.92,139.2L556.92,140.9L566.5,140.9L566.5,142.4L576.08,142.4L576.08,144L585.67,144L585.67,145.6L595.25,145.6L595.25,147.3L604.83,147.3L604.83,149L614.42,149L614.42,150.2L624,150.2L624,151.5L633.58,151.5L633.58,153L643.17,153L643.17,154.6L652.75,154.6L652.75,155.8L662.33,155.8L662.33,157.2L671.92,157.2L671.92,158.8L681.5,158.8" stroke="#ff9a14"/>
<path d="M394,118.7L394,112.3L403.58,112.3L403.58,115L413.17,115L413.17,116.2L422.75,116.2L422.75,117.9L432.33,117.9L432.33,120.2L441.92,120.2L441.92,122.9L451.5,122.9L451.5,126.4L461.08,126.4L461.08,129.4L470.67,129.4L470.67,132.7L480.25,132.7L480.25,135.8L489.83,135.8L489.83,138.6L499.42,138.6L499.42,141.5L509,141.5L509,143.8L518.58,143.8L518.58,146.6L528.17,146.6L528.17,148.8L537.75,148.8L537.75,151.3L547.33,151.3L547.33,153.2L556.92,153.2L556.92,155.5L566.5,155.5L566.5,157.7L576.08,157.7L576.08,159.8L585.67,159.8L585.67,161.1L595.25,161.1L595.25,163.8L604.83,163.8L604.83,165.5L614.42,165.5L614.42,166.8L624,166.8L624,169L633.58,169L633.58,171.5L643.17,171.5L643.17,172.4L652.75,172.4L652.75,174.4L662.33,174.4L662.33,176L671.92,176L671.92,177.2L681.5,177.2" stroke="#ff0000"/>
</g>
<path d="M394,57.9h3M681.5,57.9h-3M394,96.4h3M681.5,96.4h-3M394,134.9h3M681.5,134.9h-3M394,173.4h3M681.5,173.4h-3M437.12,211.9v-3M485.04,211.9v-3M532.96,211.9v-3M580.88,211.9v-3M628.79,211.9v-3M676.71,211.9v-3" stroke="#000" stroke-width="0.9" fill="none"/>
<rect x="394" y="19.4" width="287.5" height="192.5" fill="none" stroke="#1e1e1e" stroke-width="1"/>
<clipPath id="c358b"><rect x="394" y="215.5" width="287.5" height="74.7"/></clipPath>
<g clip-path="url(#c358b)" fill="none" stroke-width="1.35" stroke-linejoin="miter">
<path d="M394,284.8L403.58,284.8L403.58,284.2L413.17,284.2L413.17,283L422.75,283L422.75,281.5L432.33,281.5L432.33,279.7L441.92,279.7L441.92,278.4L451.5,278.4L451.5,277.1L461.08,277.1L461.08,275.7L470.67,275.7L470.67,274.3L480.25,274.3L480.25,273.2L489.83,273.2L489.83,271.9L499.42,271.9L499.42,270.4L509,270.4L509,269.2L518.58,269.2L518.58,267.7L528.17,267.7L528.17,267.75L537.75,267.75L537.75,266.45L547.33,266.45L547.33,265.15L556.92,265.15L556.92,263.95L566.5,263.95L566.5,262.85L576.08,262.85L576.08,262.15L585.67,262.15L585.67,261.2L595.25,261.2L595.25,260.1L604.83,260.1L604.83,259.2L614.42,259.2L614.42,258.2L624,258.2L624,257.4L633.58,257.4L633.58,256.6L643.17,256.6L643.17,255.5L652.75,255.5L652.75,254.6L662.33,254.6L662.33,254L671.92,254L671.92,253.2L681.5,253.2" stroke="#000000"/>
<path d="M394,285.6L403.58,285.6L403.58,285L413.17,285L413.17,283.8L422.75,283.8L422.75,282.3L432.33,282.3L432.33,280.5L441.92,280.5L441.92,279.2L451.5,279.2L451.5,277.9L461.08,277.9L461.08,276.5L470.67,276.5L470.67,275.1L480.25,275.1L480.25,274L489.83,274L489.83,272.6L499.42,272.6L499.42,271.1L509,271.1L509,269.9L518.58,269.9L518.58,268.4L528.17,268.4L528.17,267.55L537.75,267.55L537.75,266.25L547.33,266.25L547.33,264.95L556.92,264.95L556.92,263.75L566.5,263.75L566.5,262.65L576.08,262.65L576.08,261.95L585.67,261.95L585.67,261L595.25,261L595.25,259.9L604.83,259.9L604.83,259L614.42,259L614.42,258L624,258L624,257.2L633.58,257.2L633.58,256.4L643.17,256.4L643.17,255.3L652.75,255.3L652.75,254.4L662.33,254.4L662.33,253.8L671.92,253.8L671.92,253L681.5,253" stroke="#0000ff"/>
<path d="M394,277.4L403.58,277.4L403.58,279.8L413.17,279.8L413.17,280.3L422.75,280.3L422.75,279.8L432.33,279.8L432.33,278.8L441.92,278.8L441.92,277.6L451.5,277.6L451.5,276.5L461.08,276.5L461.08,275.2L470.67,275.2L470.67,274L480.25,274L480.25,272.5L489.83,272.5L489.83,271.1L499.42,271.1L499.42,269.4L509,269.4L509,267.9L518.58,267.9L518.58,266.4L528.17,266.4L528.17,264.8L537.75,264.8L537.75,263.5L547.33,263.5L547.33,261.9L556.92,261.9L556.92,260.4L566.5,260.4L566.5,258.7L576.08,258.7L576.08,257.2L585.67,257.2L585.67,255.7L595.25,255.7L595.25,253.7L604.83,253.7L604.83,251.8L614.42,251.8L614.42,251.4L624,251.4L624,249.8L633.58,249.8L633.58,248.8L643.17,248.8L643.17,246.5L652.75,246.5L652.75,244.6L662.33,244.6L662.33,244.2L671.92,244.2L671.92,241.2L681.5,241.2" stroke="#107010"/>
<path d="M394,281.2L403.58,281.2L403.58,280.9L413.17,280.9L413.17,280.5L422.75,280.5L422.75,278.8L432.33,278.8L432.33,275.1L441.92,275.1L441.92,270.2L451.5,270.2L451.5,262.6L461.08,262.6L461.08,254.1L470.67,254.1L470.67,243.1L480.25,243.1L480.25,230.4L489.83,230.4L489.83,150L499.42,150L499.42,150L509,150L509,150L518.58,150L518.58,150L528.17,150L528.17,150L537.75,150L537.75,150L547.33,150L547.33,150L556.92,150L556.92,150L566.5,150L566.5,150L576.08,150L576.08,150L585.67,150L585.67,150L595.25,150L595.25,150L604.83,150L604.83,150L614.42,150L614.42,150L624,150L624,150L633.58,150L633.58,150L643.17,150L643.17,150L652.75,150L652.75,150L662.33,150L662.33,150L671.92,150L671.92,150L681.5,150" stroke="#ff9a14"/>
<path d="M394,285.3L403.58,285.3L403.58,285.1L413.17,285.1L413.17,285.8L422.75,285.8L422.75,286L432.33,286L432.33,285.9L441.92,285.9L441.92,285.9L451.5,285.9L451.5,285.8L461.08,285.8L461.08,285.8L470.67,285.8L470.67,285.8L480.25,285.8L480.25,285.7L489.83,285.7L489.83,285.7L499.42,285.7L499.42,285.7L509,285.7L509,285.7L518.58,285.7L518.58,285.7L528.17,285.7L528.17,285.7L537.75,285.7L537.75,285.7L547.33,285.7L547.33,285.7L556.92,285.7L556.92,285.7L566.5,285.7L566.5,285.7L576.08,285.7L576.08,285.7L585.67,285.7L585.67,285.7L595.25,285.7L595.25,285.8L604.83,285.8L604.83,285.8L614.42,285.8L614.42,285.8L624,285.8L624,285.8L633.58,285.8L633.58,286.1L643.17,286.1L643.17,285.7L652.75,285.7L652.75,285.6L662.33,285.6L662.33,285.8L671.92,285.8L671.92,285.8L681.5,285.8" stroke="#ff0000"/>
</g>
<path d="M394,271.52h3M681.5,271.52h-3M394,252.85h3M681.5,252.85h-3M394,234.18h3M681.5,234.18h-3M437.12,290.2v-3M485.04,290.2v-3M532.96,290.2v-3M580.88,290.2v-3M628.79,290.2v-3M676.71,290.2v-3" stroke="#000" stroke-width="0.9" fill="none"/>
<rect x="394" y="215.5" width="287.5" height="74.7" fill="none" stroke="#1e1e1e" stroke-width="1"/>
<clipPath id="c358c"><rect x="394" y="294.1" width="287.5" height="74.8"/></clipPath>
<g clip-path="url(#c358c)" fill="none" stroke-width="1.35" stroke-linejoin="miter">
<path d="M394,318.6L403.58,318.6L403.58,319L413.17,319L413.17,317.2L422.75,317.2L422.75,315.3L432.33,315.3L432.33,314.6L441.92,314.6L441.92,313.8L451.5,313.8L451.5,313.4L461.08,313.4L461.08,313L470.67,313L470.67,312.8L480.25,312.8L480.25,312.7L489.83,312.7L489.83,312.7L499.42,312.7L499.42,312.6L509,312.6L509,312.6L518.58,312.6L518.58,312.5L528.17,312.5L528.17,312.5L537.75,312.5L537.75,312.5L547.33,312.5L547.33,312.5L556.92,312.5L556.92,312.5L566.5,312.5L566.5,312.5L576.08,312.5L576.08,312.5L585.67,312.5L585.67,313.2L595.25,313.2L595.25,312.5L604.83,312.5L604.83,312.5L614.42,312.5L614.42,312.5L624,312.5L624,313.2L633.58,313.2L633.58,312.5L643.17,312.5L643.17,313.2L652.75,313.2L652.75,312.5L662.33,312.5L662.33,313.2L671.92,313.2L671.92,312.5L681.5,312.5" stroke="#000000"/>
<path d="M394,319.4L403.58,319.4L403.58,320L413.17,320L413.17,318L422.75,318L422.75,315.6L432.33,315.6L432.33,315.3L441.92,315.3L441.92,314L451.5,314L451.5,313.6L461.08,313.6L461.08,313.2L470.67,313.2L470.67,312.8L480.25,312.8L480.25,312.6L489.83,312.6L489.83,312.5L499.42,312.5L499.42,312.4L509,312.4L509,312.4L518.58,312.4L518.58,312.3L528.17,312.3L528.17,312.3L537.75,312.3L537.75,312.3L547.33,312.3L547.33,312.3L556.92,312.3L556.92,312.3L566.5,312.3L566.5,312.3L576.08,312.3L576.08,312.3L585.67,312.3L585.67,312.3L595.25,312.3L595.25,312.3L604.83,312.3L604.83,312.3L614.42,312.3L614.42,312.3L624,312.3L624,312.3L633.58,312.3L633.58,312.3L643.17,312.3L643.17,312.3L652.75,312.3L652.75,312.3L662.33,312.3L662.33,312.3L671.92,312.3L671.92,312.3L681.5,312.3" stroke="#0000ff"/>
<path d="M394,312.7L403.58,312.7L403.58,312.7L413.17,312.7L413.17,312.7L422.75,312.7L422.75,311.8L432.33,311.8L432.33,311.2L441.92,311.2L441.92,310.4L451.5,310.4L451.5,309.4L461.08,309.4L461.08,308.7L470.67,308.7L470.67,308L480.25,308L480.25,307.3L489.83,307.3L489.83,306.7L499.42,306.7L499.42,306.2L509,306.2L509,305.9L518.58,305.9L518.58,305.5L528.17,305.5L528.17,305.2L537.75,305.2L537.75,305L547.33,305L547.33,304.6L556.92,304.6L556.92,304.4L566.5,304.4L566.5,304.4L576.08,304.4L576.08,304.3L585.67,304.3L585.67,304.2L595.25,304.2L595.25,304.1L604.83,304.1L604.83,304L614.42,304L614.42,303.9L624,303.9L624,303.7L633.58,303.7L633.58,303.5L643.17,303.5L643.17,303.2L652.75,303.2L652.75,302.4L662.33,302.4L662.33,303L671.92,303L671.92,302.7L681.5,302.7" stroke="#107010"/>
<path d="M394,316.5L403.58,316.5L403.58,315.3L413.17,315.3L413.17,314.9L422.75,314.9L422.75,313.6L432.33,313.6L432.33,312.7L441.92,312.7L441.92,311.8L451.5,311.8L451.5,311.6L461.08,311.6L461.08,311.3L470.67,311.3L470.67,311.1L480.25,311.1L480.25,310.9L489.83,310.9L489.83,310.7L499.42,310.7L499.42,310.6L509,310.6L509,310.5L518.58,310.5L518.58,310.4L528.17,310.4L528.17,310.3L537.75,310.3L537.75,310.2L547.33,310.2L547.33,310.1L556.92,310.1L556.92,310.1L566.5,310.1L566.5,310L576.08,310L576.08,310L585.67,310L585.67,310L595.25,310L595.25,310L604.83,310L604.83,310L614.42,310L614.42,310L624,310L624,310L633.58,310L633.58,310L643.17,310L643.17,310L652.75,310L652.75,310L662.33,310L662.33,310L671.92,310L671.92,310L681.5,310" stroke="#ff9a14"/>
<path d="M394,320L403.58,320L403.58,318L413.17,318L413.17,316.5L422.75,316.5L422.75,316.2L432.33,316.2L432.33,316.8L441.92,316.8L441.92,317.6L451.5,317.6L451.5,318.6L461.08,318.6L461.08,320L470.67,320L470.67,321.3L480.25,321.3L480.25,322.7L489.83,322.7L489.83,324.4L499.42,324.4L499.42,326L509,326L509,327L518.58,327L518.58,328.6L528.17,328.6L528.17,330L537.75,330L537.75,331.4L547.33,331.4L547.33,332.7L556.92,332.7L556.92,333.6L566.5,333.6L566.5,335.5L576.08,335.5L576.08,338.2L585.67,338.2L585.67,337.3L595.25,337.3L595.25,339.7L604.83,339.7L604.83,341.5L614.42,341.5L614.42,341.5L624,341.5L624,343L633.58,343L633.58,347L643.17,347L643.17,344.6L652.75,344.6L652.75,348.5L662.33,348.5L662.33,347.6L671.92,347.6L671.92,350.1L681.5,350.1" stroke="#ff0000"/>
</g>
<path d="M394,312.8h3M681.5,312.8h-3M394,331.5h3M681.5,331.5h-3M394,350.2h3M681.5,350.2h-3M437.12,368.9v-3M485.04,368.9v-3M532.96,368.9v-3M580.88,368.9v-3M628.79,368.9v-3M676.71,368.9v-3" stroke="#000" stroke-width="0.9" fill="none"/>
<rect x="394" y="294.1" width="287.5" height="74.8" fill="none" stroke="#1e1e1e" stroke-width="1"/>
<clipPath id="c358d"><rect x="394" y="372.4" width="287.5" height="74.8"/></clipPath>
<g clip-path="url(#c358d)" fill="none" stroke-width="1.35" stroke-linejoin="miter">
<path d="M394,388.6L394,382.8L403.58,382.8L403.58,382.4L413.17,382.4L413.17,385L422.75,385L422.75,386.1L432.33,386.1L432.33,387.9L441.92,387.9L441.92,389.4L451.5,389.4L451.5,392.3L461.08,392.3L461.08,394L470.67,394L470.67,395.4L480.25,395.4L480.25,396.9L489.83,396.9L489.83,398L499.42,398L499.42,399.3L509,399.3L509,400.1L518.58,400.1L518.58,401.2L528.17,401.2L528.17,402.3L537.75,402.3L537.75,403.5L547.33,403.5L547.33,404.6L556.92,404.6L556.92,405.6L566.5,405.6L566.5,406.5L576.08,406.5L576.08,407.6L585.67,407.6L585.67,408.8L595.25,408.8L595.25,409.8L604.83,409.8L604.83,410.9L614.42,410.9L614.42,411.8L624,411.8L624,412.6L633.58,412.6L633.58,413.5L643.17,413.5L643.17,414L652.75,414L652.75,414.8L662.33,414.8L662.33,415.6L671.92,415.6L671.92,416.3L681.5,416.3" stroke="#ff00ff"/>
<path d="M394,388.6L394,382.8L403.58,382.8L403.58,382.4L413.17,382.4L413.17,385L422.75,385L422.75,386.1L432.33,386.1L432.33,387.9L441.92,387.9L441.92,389.4L451.5,389.4L451.5,392.3L461.08,392.3L461.08,394L470.67,394L470.67,395.4L480.25,395.4L480.25,396.9L489.83,396.9L489.83,398L499.42,398L499.42,399.3L509,399.3L509,400.1L518.58,400.1L518.58,401.2L528.17,401.2L528.17,402.3L537.75,402.3L537.75,403.5L547.33,403.5L547.33,404.6L556.92,404.6L556.92,405.6L566.5,405.6L566.5,406.5L576.08,406.5L576.08,407.6L585.67,407.6L585.67,408.8L595.25,408.8L595.25,409.8L604.83,409.8L604.83,410.9L614.42,410.9L614.42,411.8L624,411.8L624,412.6L633.58,412.6L633.58,413.5L643.17,413.5L643.17,414L652.75,414L652.75,414.8L662.33,414.8L662.33,415.6L671.92,415.6L671.92,416.3L681.5,416.3" stroke="#0000ff"/>
<path d="M394,386L394,383.3L403.58,383.3L403.58,383.3L413.17,383.3L413.17,384.5L422.75,384.5L422.75,387.1L432.33,387.1L432.33,389.4L441.92,389.4L441.92,391.3L451.5,391.3L451.5,393.6L461.08,393.6L461.08,396.2L470.67,396.2L470.67,398.3L480.25,398.3L480.25,400.3L489.83,400.3L489.83,401.9L499.42,401.9L499.42,403.8L509,403.8L509,405.6L518.58,405.6L518.58,407.2L528.17,407.2L528.17,408.8L537.75,408.8L537.75,410.4L547.33,410.4L547.33,411.8L556.92,411.8L556.92,413.4L566.5,413.4L566.5,414.8L576.08,414.8L576.08,416L585.67,416L585.67,417.3L595.25,417.3L595.25,418.5L604.83,418.5L604.83,419.7L614.42,419.7L614.42,420.7L624,420.7L624,421.9L633.58,421.9L633.58,423L643.17,423L643.17,423.9L652.75,423.9L652.75,424.9L662.33,424.9L662.33,426.1L671.92,426.1L671.92,426.9L681.5,426.9" stroke="#107010"/>
<path d="M394,386L394,384.2L403.58,384.2L403.58,384.4L413.17,384.4L413.17,385.3L422.75,385.3L422.75,386.6L432.33,386.6L432.33,388.3L441.92,388.3L441.92,389.5L451.5,389.5L451.5,391.1L461.08,391.1L461.08,392.8L470.67,392.8L470.67,394.2L480.25,394.2L480.25,395.5L489.83,395.5L489.83,396.6L499.42,396.6L499.42,397.8L509,397.8L509,398.7L518.58,398.7L518.58,399.8L528.17,399.8L528.17,400.6L537.75,400.6L537.75,401.5L547.33,401.5L547.33,402.7L556.92,402.7L556.92,403.5L566.5,403.5L566.5,404.6L576.08,404.6L576.08,405.6L585.67,405.6L585.67,406.8L595.25,406.8L595.25,407.6L604.83,407.6L604.83,408.4L614.42,408.4L614.42,409.3L624,409.3L624,410.1L633.58,410.1L633.58,410.9L643.17,410.9L643.17,411.5L652.75,411.5L652.75,412.1L662.33,412.1L662.33,412.6L671.92,412.6L671.92,413.5L681.5,413.5" stroke="#ff9a14"/>
<path d="M394,385L394,383.2L403.58,383.2L403.58,384.2L413.17,384.2L413.17,384.8L422.75,384.8L422.75,385.9L432.33,385.9L432.33,387.7L441.92,387.7L441.92,389.2L451.5,389.2L451.5,390.9L461.08,390.9L461.08,392.6L470.67,392.6L470.67,394.3L480.25,394.3L480.25,395.9L489.83,395.9L489.83,397L499.42,397L499.42,399L509,399L509,400.6L518.58,400.6L518.58,401.9L528.17,401.9L528.17,403L537.75,403L537.75,404.3L547.33,404.3L547.33,405.6L556.92,405.6L556.92,406.7L566.5,406.7L566.5,407.8L576.08,407.8L576.08,408.9L585.67,408.9L585.67,410.1L595.25,410.1L595.25,411.5L604.83,411.5L604.83,412.3L614.42,412.3L614.42,413.5L624,413.5L624,414.3L633.58,414.3L633.58,416L643.17,416L643.17,416.3L652.75,416.3L652.75,417.3L662.33,417.3L662.33,418.2L671.92,418.2L671.92,419L681.5,419" stroke="#ff0000"/>
</g>
<path d="M394,383.09h3M681.5,383.09h-3M394,415.14h3M681.5,415.14h-3M437.12,447.2v-3M485.04,447.2v-3M532.96,447.2v-3M580.88,447.2v-3M628.79,447.2v-3M676.71,447.2v-3" stroke="#000" stroke-width="0.9" fill="none"/>
<rect x="394" y="372.4" width="287.5" height="74.8" fill="none" stroke="#1e1e1e" stroke-width="1"/>
<text x="386.15" y="19.4" font-size="6.7" textLength="4.17" lengthAdjust="spacingAndGlyphs" fill="#000" stroke="#000" stroke-width="0.1">3</text><text x="375.01" y="22.8" font-size="9.7" textLength="10.82" lengthAdjust="spacingAndGlyphs" fill="#000" stroke="#000" stroke-width="0.1">10</text><text x="386.19" y="57.9" font-size="6.7" textLength="4.17" lengthAdjust="spacingAndGlyphs" fill="#000" stroke="#000" stroke-width="0.1">1</text><text x="375.33" y="61.3" font-size="9.7" textLength="10.82" lengthAdjust="spacingAndGlyphs" fill="#000" stroke="#000" stroke-width="0.1">10</text><text x="386.19" y="96.4" font-size="6.7" textLength="4.17" lengthAdjust="spacingAndGlyphs" fill="#000" stroke="#000" stroke-width="0.1">1</text><rect x="382.45" y="94.23" width="3.6" height="0.75" fill="#000"/><text x="371.03" y="99.8" font-size="9.7" textLength="10.82" lengthAdjust="spacingAndGlyphs" fill="#000" stroke="#000" stroke-width="0.1">10</text><text x="386.15" y="134.9" font-size="6.7" textLength="4.17" lengthAdjust="spacingAndGlyphs" fill="#000" stroke="#000" stroke-width="0.1">3</text><rect x="382.14" y="132.72" width="3.6" height="0.75" fill="#000"/><text x="370.71" y="138.3" font-size="9.7" textLength="10.82" lengthAdjust="spacingAndGlyphs" fill="#000" stroke="#000" stroke-width="0.1">10</text><text x="386.14" y="173.4" font-size="6.7" textLength="4.17" lengthAdjust="spacingAndGlyphs" fill="#000" stroke="#000" stroke-width="0.1">5</text><rect x="382.14" y="171.22" width="3.6" height="0.75" fill="#000"/><text x="370.71" y="176.8" font-size="9.7" textLength="10.82" lengthAdjust="spacingAndGlyphs" fill="#000" stroke="#000" stroke-width="0.1">10</text><text x="386.21" y="211.9" font-size="6.7" textLength="4.17" lengthAdjust="spacingAndGlyphs" fill="#000" stroke="#000" stroke-width="0.1">7</text><rect x="382.29" y="209.72" width="3.6" height="0.75" fill="#000"/><text x="370.86" y="215.3" font-size="9.7" textLength="10.82" lengthAdjust="spacingAndGlyphs" fill="#000" stroke="#000" stroke-width="0.1">10</text><text x="379.19" y="218.95" font-size="9.7" textLength="11.62" lengthAdjust="spacingAndGlyphs" fill="#000" stroke="#000" stroke-width="0.1">20</text><text x="379.22" y="237.62" font-size="9.7" textLength="11.62" lengthAdjust="spacingAndGlyphs" fill="#000" stroke="#000" stroke-width="0.1">15</text><text x="379.19" y="256.3" font-size="9.7" textLength="11.62" lengthAdjust="spacingAndGlyphs" fill="#000" stroke="#000" stroke-width="0.1">10</text><text x="385.02" y="274.97" font-size="9.7" textLength="5.81" lengthAdjust="spacingAndGlyphs" fill="#000" stroke="#000" stroke-width="0.1">5</text><text x="384.99" y="293.65" font-size="9.7" textLength="5.81" lengthAdjust="spacingAndGlyphs" fill="#000" stroke="#000" stroke-width="0.1">0</text><text x="379.19" y="297.55" font-size="9.7" textLength="11.62" lengthAdjust="spacingAndGlyphs" fill="#000" stroke="#000" stroke-width="0.1">10</text><text x="384.99" y="316.25" font-size="9.7" textLength="5.81" lengthAdjust="spacingAndGlyphs" fill="#000" stroke="#000" stroke-width="0.1">0</text><text x="379.19" y="334.95" font-size="9.7" textLength="11.62" lengthAdjust="spacingAndGlyphs" fill="#000" stroke="#000" stroke-width="0.1">10</text><rect x="373.08" y="332" width="5.8" height="0.8" fill="#000"/><text x="379.19" y="353.65" font-size="9.7" textLength="11.62" lengthAdjust="spacingAndGlyphs" fill="#000" stroke="#000" stroke-width="0.1">20</text><rect x="372.81" y="350.7" width="5.8" height="0.8" fill="#000"/><text x="379.19" y="372.35" font-size="9.7" textLength="11.62" lengthAdjust="spacingAndGlyphs" fill="#000" stroke="#000" stroke-width="0.1">30</text><rect x="372.68" y="369.4" width="5.8" height="0.8" fill="#000"/><text x="386.21" y="383.09" font-size="6.7" textLength="4.17" lengthAdjust="spacingAndGlyphs" fill="#000" stroke="#000" stroke-width="0.1">2</text><rect x="382.29" y="380.91" width="3.6" height="0.75" fill="#000"/><text x="370.86" y="386.49" font-size="9.7" textLength="10.82" lengthAdjust="spacingAndGlyphs" fill="#000" stroke="#000" stroke-width="0.1">10</text><text x="386.14" y="415.14" font-size="6.7" textLength="4.17" lengthAdjust="spacingAndGlyphs" fill="#000" stroke="#000" stroke-width="0.1">5</text><rect x="382.14" y="412.97" width="3.6" height="0.75" fill="#000"/><text x="370.71" y="418.54" font-size="9.7" textLength="10.82" lengthAdjust="spacingAndGlyphs" fill="#000" stroke="#000" stroke-width="0.1">10</text><text x="386.15" y="447.2" font-size="6.7" textLength="4.17" lengthAdjust="spacingAndGlyphs" fill="#000" stroke="#000" stroke-width="0.1">8</text><rect x="382.17" y="445.02" width="3.6" height="0.75" fill="#000"/><text x="370.74" y="450.6" font-size="9.7" textLength="10.82" lengthAdjust="spacingAndGlyphs" fill="#000" stroke="#000" stroke-width="0.1">10</text><text x="428.8" y="457.3" font-size="9.7" textLength="16.3" lengthAdjust="spacingAndGlyphs" fill="#000" stroke="#000" stroke-width="0.1">100</text><text x="476.83" y="457.3" font-size="9.7" textLength="16.3" lengthAdjust="spacingAndGlyphs" fill="#000" stroke="#000" stroke-width="0.1">200</text><text x="524.81" y="457.3" font-size="9.7" textLength="16.3" lengthAdjust="spacingAndGlyphs" fill="#000" stroke="#000" stroke-width="0.1">300</text><text x="572.8" y="457.3" font-size="9.7" textLength="16.3" lengthAdjust="spacingAndGlyphs" fill="#000" stroke="#000" stroke-width="0.1">400</text><text x="620.63" y="457.3" font-size="9.7" textLength="16.3" lengthAdjust="spacingAndGlyphs" fill="#000" stroke="#000" stroke-width="0.1">500</text><text x="668.5" y="457.3" font-size="9.7" textLength="16.3" lengthAdjust="spacingAndGlyphs" fill="#000" stroke="#000" stroke-width="0.1">600</text>
<text x="403.18" y="13.7" font-size="10.9" font-style="italic" textLength="12.58" lengthAdjust="spacingAndGlyphs" fill="#000" stroke="#000" stroke-width="0.12">pp</text><path d="M416.4,10.4H421.9" stroke="#000" stroke-width="1.05"/><path d="M420.8,8.2L424.3,10.4L420.8,12.6L421.6,10.4Z" fill="#000"/><text x="424.55" y="13.7" font-size="10.9" font-style="italic" textLength="5.93" lengthAdjust="spacingAndGlyphs" fill="#000" stroke="#000" stroke-width="0.12">e</text><rect x="432.1" y="6.9" width="4.7" height="0.8" fill="#000"/><text x="438.03" y="13.7" font-size="10.9" font-style="italic" textLength="4.92" lengthAdjust="spacingAndGlyphs" fill="#000" stroke="#000" stroke-width="0.12">ν</text><rect x="439.8" y="5.7" width="3.3" height="0.8" fill="#000"/><text x="443.27" y="15.4" font-size="7.6" font-style="italic" textLength="3.99" lengthAdjust="spacingAndGlyphs" fill="#000" stroke="#000" stroke-width="0.12">e</text><text x="448.04" y="13.7" font-size="10.9" font-style="italic" textLength="6.45" lengthAdjust="spacingAndGlyphs" fill="#000" stroke="#000" stroke-width="0.12">μ</text><text x="455.34" y="10.1" font-size="7.6" textLength="5.63" lengthAdjust="spacingAndGlyphs" fill="#000" stroke="#000" stroke-width="0.12">+</text><text x="461.71" y="13.7" font-size="10.9" font-style="italic" textLength="5.85" lengthAdjust="spacingAndGlyphs" fill="#000" stroke="#000" stroke-width="0.12">μ</text><rect x="468.1" y="6.9" width="5" height="0.8" fill="#000"/><text x="473.69" y="13.7" font-size="10.9" textLength="72.36" lengthAdjust="spacingAndGlyphs" fill="#000" stroke="#000" stroke-width="0.12">@NLOQCDEW</text><rect x="551.3" y="6.1" width="1" height="9.7" fill="#000"/><path d="M557.8,10.6l1.3,-0.6l1.9,4.2l2.6,-8.7h7.5" fill="none" stroke="#000" stroke-width="0.85"/><text x="564.67" y="13.7" font-size="10.9" font-style="italic" textLength="6.18" lengthAdjust="spacingAndGlyphs" fill="#000" stroke="#000" stroke-width="0.12">s</text><rect x="574.4" y="8.97" width="6.9" height="0.85" fill="#000"/><rect x="574.4" y="11.02" width="6.9" height="0.85" fill="#000"/><text x="583.52" y="13.7" font-size="10.9" textLength="33.14" lengthAdjust="spacingAndGlyphs" fill="#000" stroke="#000" stroke-width="0.12">13TeV</text><rect x="621.3" y="6.1" width="1" height="9.7" fill="#000"/><text x="626.97" y="13.7" font-size="10.9" textLength="45.61" lengthAdjust="spacingAndGlyphs" fill="#000" stroke="#000" stroke-width="0.12">ATLASfid</text>
<path d="M454.6,37.05H476.7" stroke="#000000" stroke-width="1.4"/><path d="M454.6,51.9H476.7" stroke="#ff00ff" stroke-width="1.4"/><path d="M454.6,66.9H476.7" stroke="#0000ff" stroke-width="1.4"/><path d="M554.6,37H576.3" stroke="#107010" stroke-width="1.4"/><path d="M554.6,51.9H576.3" stroke="#ff9a14" stroke-width="1.4"/><path d="M554.6,66.8H576.3" stroke="#ff0000" stroke-width="1.4"/><text x="484.34" y="40.6" font-size="11" textLength="60.7" lengthAdjust="spacingAndGlyphs" fill="#000" stroke="#000" stroke-width="0.12">unpolarized</text><text x="484.33" y="55.5" font-size="11" textLength="54.65" lengthAdjust="spacingAndGlyphs" fill="#000" stroke="#000" stroke-width="0.12">polar. sum</text><text x="484.38" y="70.5" font-size="11" font-style="italic" textLength="8.88" lengthAdjust="spacingAndGlyphs" fill="#000" stroke="#000" stroke-width="0.12">W</text><text x="494.11" y="72" font-size="7.6" font-style="italic" textLength="4" lengthAdjust="spacingAndGlyphs" fill="#000" stroke="#000" stroke-width="0.12">T</text><text x="499.21" y="70.5" font-size="11" font-style="italic" textLength="6.5" lengthAdjust="spacingAndGlyphs" fill="#000" stroke="#000" stroke-width="0.12">Z</text><text x="505.87" y="72" font-size="7.6" font-style="italic" textLength="4.95" lengthAdjust="spacingAndGlyphs" fill="#000" stroke="#000" stroke-width="0.12">T</text><text x="584.08" y="40.5" font-size="11" font-style="italic" textLength="8.88" lengthAdjust="spacingAndGlyphs" fill="#000" stroke="#000" stroke-width="0.12">W</text><text x="593.81" y="42" font-size="7.6" font-style="italic" textLength="4" lengthAdjust="spacingAndGlyphs" fill="#000" stroke="#000" stroke-width="0.12">T</text><text x="598.91" y="40.5" font-size="11" font-style="italic" textLength="6.5" lengthAdjust="spacingAndGlyphs" fill="#000" stroke="#000" stroke-width="0.12">Z</text><text x="606.04" y="42" font-size="7.6" font-style="italic" textLength="4.89" lengthAdjust="spacingAndGlyphs" fill="#000" stroke="#000" stroke-width="0.12">L</text><text x="584.08" y="55.5" font-size="11" font-style="italic" textLength="8.88" lengthAdjust="spacingAndGlyphs" fill="#000" stroke="#000" stroke-width="0.12">W</text><text x="594.18" y="57" font-size="7.6" font-style="italic" textLength="4.03" lengthAdjust="spacingAndGlyphs" fill="#000" stroke="#000" stroke-width="0.12">L</text><text x="598.41" y="55.5" font-size="11" font-style="italic" textLength="6.5" lengthAdjust="spacingAndGlyphs" fill="#000" stroke="#000" stroke-width="0.12">Z</text><text x="605.07" y="57" font-size="7.6" font-style="italic" textLength="4.95" lengthAdjust="spacingAndGlyphs" fill="#000" stroke="#000" stroke-width="0.12">T</text><text x="584.08" y="70.4" font-size="11" font-style="italic" textLength="8.88" lengthAdjust="spacingAndGlyphs" fill="#000" stroke="#000" stroke-width="0.12">W</text><text x="594.18" y="71.9" font-size="7.6" font-style="italic" textLength="4.03" lengthAdjust="spacingAndGlyphs" fill="#000" stroke="#000" stroke-width="0.12">L</text><text x="598.41" y="70.4" font-size="11" font-style="italic" textLength="6.5" lengthAdjust="spacingAndGlyphs" fill="#000" stroke="#000" stroke-width="0.12">Z</text><text x="605.54" y="71.9" font-size="7.6" font-style="italic" textLength="4.89" lengthAdjust="spacingAndGlyphs" fill="#000" stroke="#000" stroke-width="0.12">L</text>
<text x="422.68" y="191.8" font-size="12.6" textLength="8.16" lengthAdjust="spacingAndGlyphs" fill="#000" stroke="#000" stroke-width="0.12">d</text><text x="429.92" y="191.8" font-size="12.6" font-style="italic" textLength="7.01" lengthAdjust="spacingAndGlyphs" fill="#000" stroke="#000" stroke-width="0.12">σ</text><text x="437.4" y="191.8" font-size="12.6" textLength="4.31" lengthAdjust="spacingAndGlyphs" fill="#000" stroke="#000" stroke-width="0.12">/</text><text x="441.48" y="191.8" font-size="12.6" textLength="8.16" lengthAdjust="spacingAndGlyphs" fill="#000" stroke="#000" stroke-width="0.12">d</text><text x="449.23" y="191.8" font-size="12.6" font-style="italic" textLength="7.28" lengthAdjust="spacingAndGlyphs" fill="#000" stroke="#000" stroke-width="0.12">p</text><text x="456.21" y="193.4" font-size="8.6" font-style="italic" textLength="5.37" lengthAdjust="spacingAndGlyphs" fill="#000" stroke="#000" stroke-width="0.12">T</text><text x="462.48" y="193.4" font-size="8.6" font-style="italic" textLength="3.12" lengthAdjust="spacingAndGlyphs" fill="#000" stroke="#000" stroke-width="0.12">,</text><text x="466.19" y="193.4" font-size="8.6" font-style="italic" textLength="5.85" lengthAdjust="spacingAndGlyphs" fill="#000" stroke="#000" stroke-width="0.12">Z</text><text x="472.45" y="191.8" font-size="12.6" textLength="50.02" lengthAdjust="spacingAndGlyphs" fill="#000" stroke="#000" stroke-width="0.12">[fb/GeV]</text>
<text x="517.74" y="468.6" font-size="9.6" font-style="italic" textLength="5.26" lengthAdjust="spacingAndGlyphs" fill="#000" stroke="#000" stroke-width="0.12">p</text><text x="522.63" y="470.5" font-size="7" font-style="italic" textLength="3.16" lengthAdjust="spacingAndGlyphs" fill="#000" stroke="#000" stroke-width="0.12">T</text><text x="526.1" y="470.5" font-size="7" font-style="italic" textLength="1.36" lengthAdjust="spacingAndGlyphs" fill="#000" stroke="#000" stroke-width="0.12">,</text><text x="529.23" y="470.5" font-size="7" font-style="italic" textLength="3.99" lengthAdjust="spacingAndGlyphs" fill="#000" stroke="#000" stroke-width="0.12">Z</text><text x="533.41" y="468.6" font-size="9.6" textLength="25.06" lengthAdjust="spacingAndGlyphs" fill="#000" stroke="#000" stroke-width="0.12">[GeV]</text>
<g transform="translate(375.4,278) rotate(-90)"><text x="-0.72" y="0" font-size="10.3" textLength="51.23" lengthAdjust="spacingAndGlyphs" fill="#000" stroke="#000" stroke-width="0.15">NLOQCD/LO</text></g><g transform="translate(367.5,346.8) rotate(-90)"><text x="-0.33" y="0" font-size="9.3" font-style="italic" textLength="5.63" lengthAdjust="spacingAndGlyphs" fill="#000" stroke="#000" stroke-width="0.15">δ</text></g><g transform="translate(367.5,346.8) rotate(-90)"><rect x="0.5" y="-7.9" width="4.9" height="0.8" fill="#000"/></g><g transform="translate(367.5,346.8) rotate(-90)"><text x="5.44" y="1.6" font-size="6.6" font-style="italic" textLength="8.73" lengthAdjust="spacingAndGlyphs" fill="#000" stroke="#000" stroke-width="0.12">EW</text></g><g transform="translate(367.5,346.8) rotate(-90)"><text x="15.1" y="0" font-size="9.3" textLength="14.39" lengthAdjust="spacingAndGlyphs" fill="#000" stroke="#000" stroke-width="0.15">[%]</text></g><g transform="translate(365.6,438.8) rotate(-90)"><text x="-0.65" y="0" font-size="10" textLength="58.78" lengthAdjust="spacingAndGlyphs" fill="#000" stroke="#000" stroke-width="0.15">norm. shapes</text></g>
</g></svg></body></html>
